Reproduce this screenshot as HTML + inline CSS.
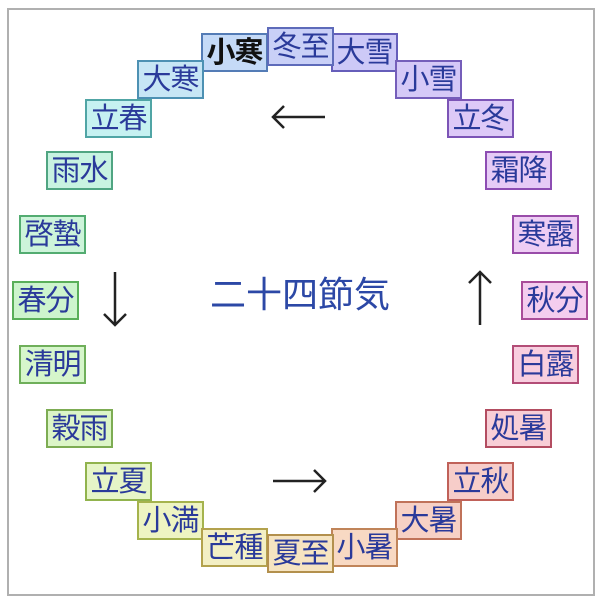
<!DOCTYPE html>
<html><head><meta charset="utf-8"><style>
body{margin:0;width:600px;height:601px;background:#fff;position:relative;overflow:hidden;font-family:"Liberation Sans","Noto Sans CJK JP",sans-serif}
.f{position:absolute;left:7px;top:8px;width:584px;height:584px;border:2px solid #b0b0b0}
.b{position:absolute;box-sizing:border-box;width:67px;height:39px;border:2px solid;font-size:29px;line-height:36px;text-align:center;color:#2a3a9a;white-space:nowrap;letter-spacing:-1px}
.c{position:absolute;left:190px;top:271px;width:220px;text-align:center;font-size:36px;color:#2c48a6;line-height:48px}
</style></head><body>
<div class="f"></div>
<div class="c">二十四節気</div>
<svg style="position:absolute;left:0;top:0" width="600" height="601">
<g stroke="#222" stroke-width="2.5" fill="none">
<path d="M273 117H325M284 106L273 117L284 128"/>
<path d="M115 272V325M104 314L115 325L126 314"/>
<path d="M273 481H325M314 470L325 481L314 492"/>
<path d="M480 272V325M469 283L480 272L491 283"/>
</g></svg>
<div class="b" style="left:201px;top:33px;background:hsl(215,75%,87%);border-color:hsl(215,40%,52%);color:#111;font-weight:bold">小寒</div>
<div class="b" style="left:137px;top:60px;background:hsl(200,70%,87%);border-color:hsl(200,40%,50%)">大寒</div>
<div class="b" style="left:85px;top:99px;background:hsl(180,60%,86%);border-color:hsl(180,35%,48%)">立春</div>
<div class="b" style="left:46px;top:151px;background:hsl(155,65%,87%);border-color:hsl(155,35%,48%)">雨水</div>
<div class="b" style="left:19px;top:215px;background:hsl(140,65%,88%);border-color:hsl(140,35%,50%)">啓蟄</div>
<div class="b" style="left:12px;top:281px;background:hsl(120,65%,88%);border-color:hsl(120,35%,52%)">春分</div>
<div class="b" style="left:19px;top:345px;background:hsl(105,70%,88%);border-color:hsl(105,35%,52%)">清明</div>
<div class="b" style="left:46px;top:409px;background:hsl(92,70%,87%);border-color:hsl(92,35%,50%)">穀雨</div>
<div class="b" style="left:85px;top:462px;background:hsl(80,70%,87%);border-color:hsl(80,40%,50%)">立夏</div>
<div class="b" style="left:137px;top:501px;background:hsl(68,70%,86%);border-color:hsl(68,40%,50%)">小満</div>
<div class="b" style="left:201px;top:528px;background:hsl(55,65%,86%);border-color:hsl(50,40%,50%)">芒種</div>
<div class="b" style="left:331px;top:33px;background:hsl(245,75%,88%);border-color:hsl(245,40%,55%)">大雪</div>
<div class="b" style="left:395px;top:60px;background:hsl(255,75%,88%);border-color:hsl(255,40%,55%)">小雪</div>
<div class="b" style="left:447px;top:99px;background:hsl(265,75%,88%);border-color:hsl(265,40%,52%)">立冬</div>
<div class="b" style="left:485px;top:151px;background:hsl(278,70%,88%);border-color:hsl(278,40%,50%)">霜降</div>
<div class="b" style="left:512px;top:215px;background:hsl(290,65%,88%);border-color:hsl(290,38%,48%)">寒露</div>
<div class="b" style="left:521px;top:281px;background:hsl(310,65%,88%);border-color:hsl(310,38%,48%)">秋分</div>
<div class="b" style="left:512px;top:345px;background:hsl(335,75%,89%);border-color:hsl(335,40%,50%)">白露</div>
<div class="b" style="left:485px;top:409px;background:hsl(348,75%,89%);border-color:hsl(348,40%,50%)">処暑</div>
<div class="b" style="left:447px;top:462px;background:hsl(5,75%,88%);border-color:hsl(5,45%,55%)">立秋</div>
<div class="b" style="left:395px;top:501px;background:hsl(15,75%,87%);border-color:hsl(15,45%,55%)">大暑</div>
<div class="b" style="left:331px;top:528px;background:hsl(25,80%,87%);border-color:hsl(25,45%,55%)">小暑</div>
<div class="b" style="left:267px;top:534px;background:hsl(40,75%,86%);border-color:hsl(40,40%,50%)">夏至</div>
<div class="b" style="left:267px;top:27px;background:hsl(232,75%,88%);border-color:hsl(232,40%,55%)">冬至</div>
</body></html>
